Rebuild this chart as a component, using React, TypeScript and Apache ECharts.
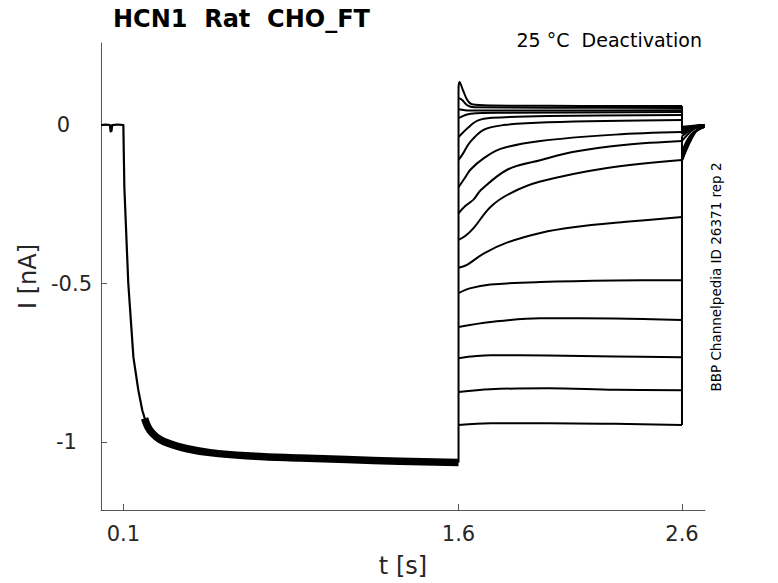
import React, { useEffect, useRef } from "react";
import * as echarts from "echarts";

// ---- tick labels ----
const xTicks = [0.1, 1.6, 2.6];
const yTicks = [0, -0.5, -1];

// ---- activation pre-pulse (shared by all sweeps) ----
const baselineOnset: number[][] = [
  [0, 0], [0.02, 0.002], [0.04, 0], [0.043, -0.02], [0.047, -0.018], [0.05, 0],
  [0.075, 0.002], [0.1, 0], [0.1045, -0.196], [0.122, -0.498], [0.145, -0.732],
  [0.167, -0.836], [0.185, -0.9], [0.2, -0.935],
];
const activationBand: number[][] = [
  [0.195, -0.925], [0.21, -0.952], [0.23, -0.972], [0.26, -0.99], [0.3, -1.003],
  [0.38, -1.02], [0.488, -1.033], [0.65, -1.043], [0.89, -1.05], [1.1, -1.055],
  [1.337, -1.06], [1.6, -1.064],
];

// ---- deactivation sweeps (test step 1.6 s -> 2.6 s, then tail) ----
const sweep01: number[][] = [[1.6, -1.064], [1.6, 0.12], [1.604, 0.136], [1.62, 0.11], [1.64, 0.078], [1.66, 0.066], [1.75, 0.062], [2.0, 0.061], [2.3, 0.06], [2.6, 0.06], [2.6, -0.005], [2.65, -0.002], [2.7, 0]];
const sweep02: number[][] = [[1.6, -1.064], [1.6, 0.085], [1.615, 0.08], [1.64, 0.062], [1.67, 0.056], [2.0, 0.055], [2.6, 0.054], [2.6, -0.01], [2.65, -0.004], [2.7, 0]];
const sweep03: number[][] = [[1.6, -1.064], [1.6, 0.05], [1.65, 0.046], [2.0, 0.046], [2.6, 0.047], [2.6, -0.012], [2.65, -0.004], [2.7, 0]];
const sweep04: number[][] = [[1.6, -1.064], [1.6, 0.022], [1.654, 0.036], [1.8, 0.039], [2.6, 0.041], [2.6, -0.015], [2.65, -0.005], [2.7, 0]];
const sweep05: number[][] = [[1.6, -1.064], [1.6, -0.038], [1.64, -0.01], [1.685, 0.014], [1.75, 0.023], [2.0, 0.029], [2.6, 0.032], [2.6, -0.018], [2.65, -0.006], [2.7, 0]];
const sweep06: number[][] = [[1.6, -1.064], [1.6, -0.11], [1.62, -0.09], [1.65, -0.055], [1.712, -0.015], [1.8, 0.0], [2.0, 0.009], [2.6, 0.016], [2.6, -0.022], [2.65, -0.007], [2.7, 0]];
const sweep07: number[][] = [[1.6, -1.064], [1.6, -0.196], [1.625, -0.17], [1.654, -0.14], [1.712, -0.105], [1.788, -0.075], [1.966, -0.05], [2.3, -0.03], [2.6, -0.022], [2.6, -0.028], [2.65, -0.008], [2.7, 0]];
const sweep08: number[][] = [[1.6, -1.064], [1.6, -0.278], [1.63, -0.255], [1.667, -0.235], [1.7, -0.205], [1.82, -0.14], [1.97, -0.11], [2.11, -0.085], [2.35, -0.062], [2.6, -0.05], [2.6, -0.035], [2.65, -0.01], [2.7, 0]];
const sweep09: number[][] = [[1.6, -1.064], [1.6, -0.362], [1.63, -0.35], [1.667, -0.325], [1.743, -0.258], [1.832, -0.215], [1.966, -0.178], [2.265, -0.135], [2.6, -0.11], [2.6, -0.05], [2.65, -0.014], [2.7, -0.002]];
const sweep10: number[][] = [[1.6, -1.064], [1.6, -0.45], [1.64, -0.44], [1.712, -0.405], [1.819, -0.37], [1.966, -0.34], [2.113, -0.322], [2.35, -0.305], [2.6, -0.29], [2.6, -0.085], [2.64, -0.03], [2.7, -0.004]];
const sweep11: number[][] = [[1.6, -1.064], [1.6, -0.53], [1.65, -0.515], [1.743, -0.503], [1.966, -0.495], [2.3, -0.49], [2.6, -0.489], [2.6, -0.1], [2.645, -0.03], [2.7, -0.005]];
const sweep12: number[][] = [[1.6, -1.064], [1.6, -0.637], [1.743, -0.621], [1.966, -0.609], [2.3, -0.61], [2.6, -0.615], [2.6, -0.105], [2.648, -0.028], [2.7, -0.005]];
const sweep13: number[][] = [[1.6, -1.064], [1.6, -0.735], [1.743, -0.726], [2.0, -0.727], [2.3, -0.73], [2.6, -0.732], [2.6, -0.108], [2.652, -0.026], [2.7, -0.005]];
const sweep14: number[][] = [[1.6, -1.064], [1.6, -0.842], [1.743, -0.833], [2.0, -0.83], [2.3, -0.835], [2.6, -0.836], [2.6, -0.11], [2.655, -0.024], [2.7, -0.005]];
const sweep15: number[][] = [[1.6, -1.064], [1.6, -0.946], [1.743, -0.94], [2.0, -0.94], [2.3, -0.942], [2.6, -0.946], [2.6, -0.112], [2.66, -0.022], [2.7, -0.005]];

const sweeps = [sweep01, sweep02, sweep03, sweep04, sweep05, sweep06, sweep07, sweep08, sweep09, sweep10, sweep11, sweep12, sweep13, sweep14, sweep15];

const FONT = "DejaVu Sans";

// split a sweep into smooth pieces and the vertical voltage-step jumps
function splitSweep(s: number[][]) {
  const pieces: number[][][] = [];
  const jumps: (number[] | string)[] = [];
  let cur: number[][] = [s[0]];
  for (let i = 1; i < s.length; i++) {
    if (s[i][0] === s[i - 1][0]) {
      if (cur.length > 1) pieces.push(cur);
      jumps.push(s[i - 1], s[i], "-");
      cur = [s[i]];
    } else {
      cur.push(s[i]);
    }
  }
  if (cur.length > 1) pieces.push(cur);
  return { pieces, jumps };
}

export default function App() {
  const ref = useRef<HTMLDivElement>(null);
  useEffect(() => {
    if (!ref.current) return;
    const chart = echarts.init(ref.current, undefined, { renderer: "svg" });
    const lineSeries = (data: any[], width: number, smooth: number | false) => ({
      type: "line",
      data,
      showSymbol: false,
      symbol: "none",
      silent: true,
      smooth,
      connectNulls: false,
      lineStyle: { color: "#000", width, join: "round", cap: "butt" },
    });
    const allJumps: any[] = [];
    const curveSeries: any[] = [];
    sweeps.forEach((s) => {
      const { pieces, jumps } = splitSweep(s);
      allJumps.push(...jumps);
      pieces.forEach((p) => curveSeries.push(lineSeries(p, 2, 0.35)));
    });
    const axisCommon = {
      type: "value",
      splitLine: { show: false },
      axisLine: { show: true, onZero: false, lineStyle: { color: "#555", width: 1 } },
      axisTick: { show: true, inside: true, length: 6, lineStyle: { color: "#555", width: 1 } },
    };
    chart.setOption({
      animation: false,
      backgroundColor: "#fff",
      title: {
        text: "HCN1  Rat  CHO_FT",
        left: 108,
        top: 2,
        textStyle: { fontFamily: FONT, fontSize: 24, fontWeight: "bold", color: "#000" },
      },
      grid: { left: 101, right: 73, top: 43, bottom: 73, containLabel: false },
      xAxis: {
        ...axisCommon,
        min: 0,
        max: 2.703,
        name: "t [s]",
        nameLocation: "middle",
        nameGap: 44,
        nameTextStyle: { fontFamily: FONT, fontSize: 24, color: "#262626" },
        axisTick: { ...axisCommon.axisTick, customValues: xTicks },
        axisLabel: {
          customValues: xTicks,
          margin: 13,
          fontFamily: FONT,
          fontSize: 21,
          color: "#262626",
          formatter: (v: number) => v.toFixed(1),
        },
      },
      yAxis: {
        ...axisCommon,
        min: -1.214,
        max: 0.259,
        name: "I [nA]",
        nameLocation: "middle",
        nameGap: 61,
        nameTextStyle: { fontFamily: FONT, fontSize: 24, color: "#262626" },
        axisTick: { ...axisCommon.axisTick, customValues: yTicks },
        axisLabel: {
          customValues: yTicks,
          margin: 9,
          fontFamily: FONT,
          fontSize: 21,
          color: "#262626",
          formatter: (v: number) =>
            v === 0 ? "{a|0}" : v === -1 ? "{b|-1}" : "{c|" + String(v) + "}",
          rich: {
            a: { fontFamily: FONT, fontSize: 21, color: "#262626", padding: [0, 22, 0, 0] },
            b: { fontFamily: FONT, fontSize: 21, color: "#262626", padding: [0, 15, 0, 0] },
            c: { fontFamily: FONT, fontSize: 21, color: "#262626" },
          },
        },
      },
      graphic: [
        {
          type: "text",
          right: 76,
          top: 30,
          style: { text: "25 °C  Deactivation", font: `19px "${FONT}"`, fill: "#000" },
        },
        {
          type: "text",
          x: 716,
          y: 277,
          rotation: Math.PI / 2,
          style: {
            text: "BBP Channelpedia ID 26371 rep 2",
            font: `13.5px "${FONT}"`,
            fill: "#000",
            align: "center",
            verticalAlign: "middle",
          },
        },
      ],
      series: [
        lineSeries(baselineOnset, 2.2, false),
        lineSeries(activationBand, 7.5, 0.35),
        lineSeries(allJumps, 2, false),
        ...curveSeries,
      ],
    });
    return () => chart.dispose();
  }, []);
  return (
    <div
      ref={ref}
      style={{ position: "fixed", left: 0, top: 0, width: 778, height: 583, background: "#fff" }}
    />
  );
}
